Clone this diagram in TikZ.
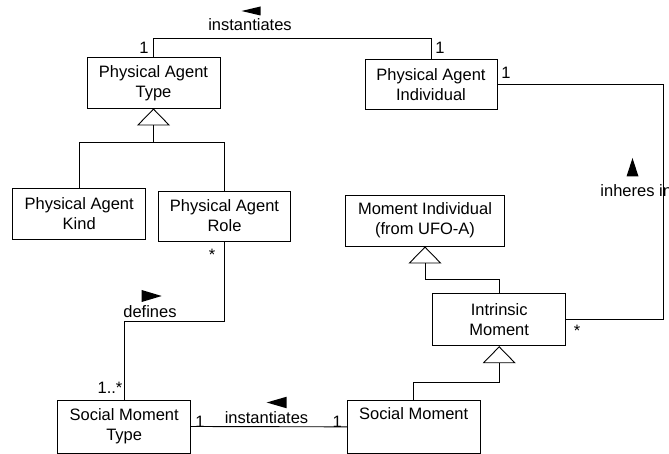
\documentclass[tikz,border=0pt]{standalone}
\usepackage{fontspec}
\setmainfont{Liberation Sans}
\usetikzlibrary{arrows.meta}
\begin{document}
\begin{tikzpicture}[x=1pt,y=-1pt, line width=0.9pt,
 umlbox/.style={draw, inner sep=0pt, align=center, minimum height=51pt, minimum width=133pt, font=\fontsize{16.5}{20}\selectfont},
 lbl/.style={inner sep=0pt, font=\fontsize{16.5}{20}\selectfont},
 gen/.style={-{Triangle[open,length=17pt,width=33pt]}},
 dirarrow/.style={fill=black, draw=none}]
\useasboundingbox (0,0) rectangle (669,454);
\clip (0,0) rectangle (669,454);

% classes
\node[umlbox, minimum height=50.5pt] (PAT) at (153.5,82.75) {Physical Agent\\Type};
\node[umlbox, minimum width=132pt, minimum height=50pt] (PAI) at (431,84.4) {Physical Agent\\Individual};
\node[umlbox, minimum height=50.7pt] (PAK) at (79.2,213.7) {Physical Agent\\Kind};
\node[umlbox, minimum width=132pt, minimum height=50pt] (PAR) at (224.5,216) {Physical Agent\\Role};
\node[umlbox, minimum width=158.6pt] (MI) at (425,220.5) {Moment Individual\\(from UFO-A)};
\node[umlbox, minimum height=52.4pt] (IM) at (499.2,319.5) {Intrinsic\\Moment};
\node[umlbox, minimum height=53pt] (SMT) at (124.2,426.5) {Social Moment\\Type};
\node[umlbox, minimum width=132.7pt, minimum height=52.3pt] (SM) at (413.7,426.85) {Social Moment\\\strut};

% helper coordinates
\coordinate (t1) at (0,38);
\coordinate (rx) at (663,0);
\coordinate (g1) at (153.5,142.5);
\coordinate (g2) at (425,279.3);
\coordinate (g3) at (499.2,382.3);
\coordinate (d1) at (0,321);

% associations
\draw (PAT.north) -- (PAT.north |- t1) -| (PAI.north);
\draw (PAI.east) -| (rx |- IM.east) -- (IM.east);
\draw (PAR.south) -- (PAR.south |- d1) -| (SMT.north);
\draw (SMT.east) -- (SM.west);

% generalizations
\draw (PAK.north) |- (g1) -| (PAR.north);
\draw[gen] (g1) -- (PAT.south);
\draw[gen] (IM.north) |- (g2) -- (MI.south);
\draw[gen] (SM.north) |- (g3) -- (IM.south);

% labels
\node[lbl] (inst1) at (250,25) {instantiates};
\fill[dirarrow] (241.5,11) -- (260.5,6.5) -- (260.5,15.5) -- cycle;
\node[lbl] (m1) at (144,48) {1};
\node[lbl] (m2) at (440,48) {1};
\node[lbl] (m3) at (506,73) {1};
\node[lbl, anchor=west] (inh) at (600,191) {inheres in};
\fill[dirarrow] (632.5,158) -- (638.5,176.5) -- (626.5,176.5) -- cycle;
\node[lbl] (m4) at (577,331) {*};
\node[lbl] (m5) at (212,255) {*};
\node[lbl] (def) at (150,312) {defines};
\fill[dirarrow] (161.7,296) -- (141.7,290) -- (141.7,302) -- cycle;
\node[lbl] (m6) at (110,388) {1..*};
\node[lbl] (m7) at (200,422) {1};
\node[lbl] (inst2) at (266.5,418) {instantiates};
\fill[dirarrow] (266.7,402.5) -- (286.7,396.7) -- (286.7,408.3) -- cycle;
\node[lbl] (m8) at (337.3,422) {1};
\end{tikzpicture}
\end{document}
